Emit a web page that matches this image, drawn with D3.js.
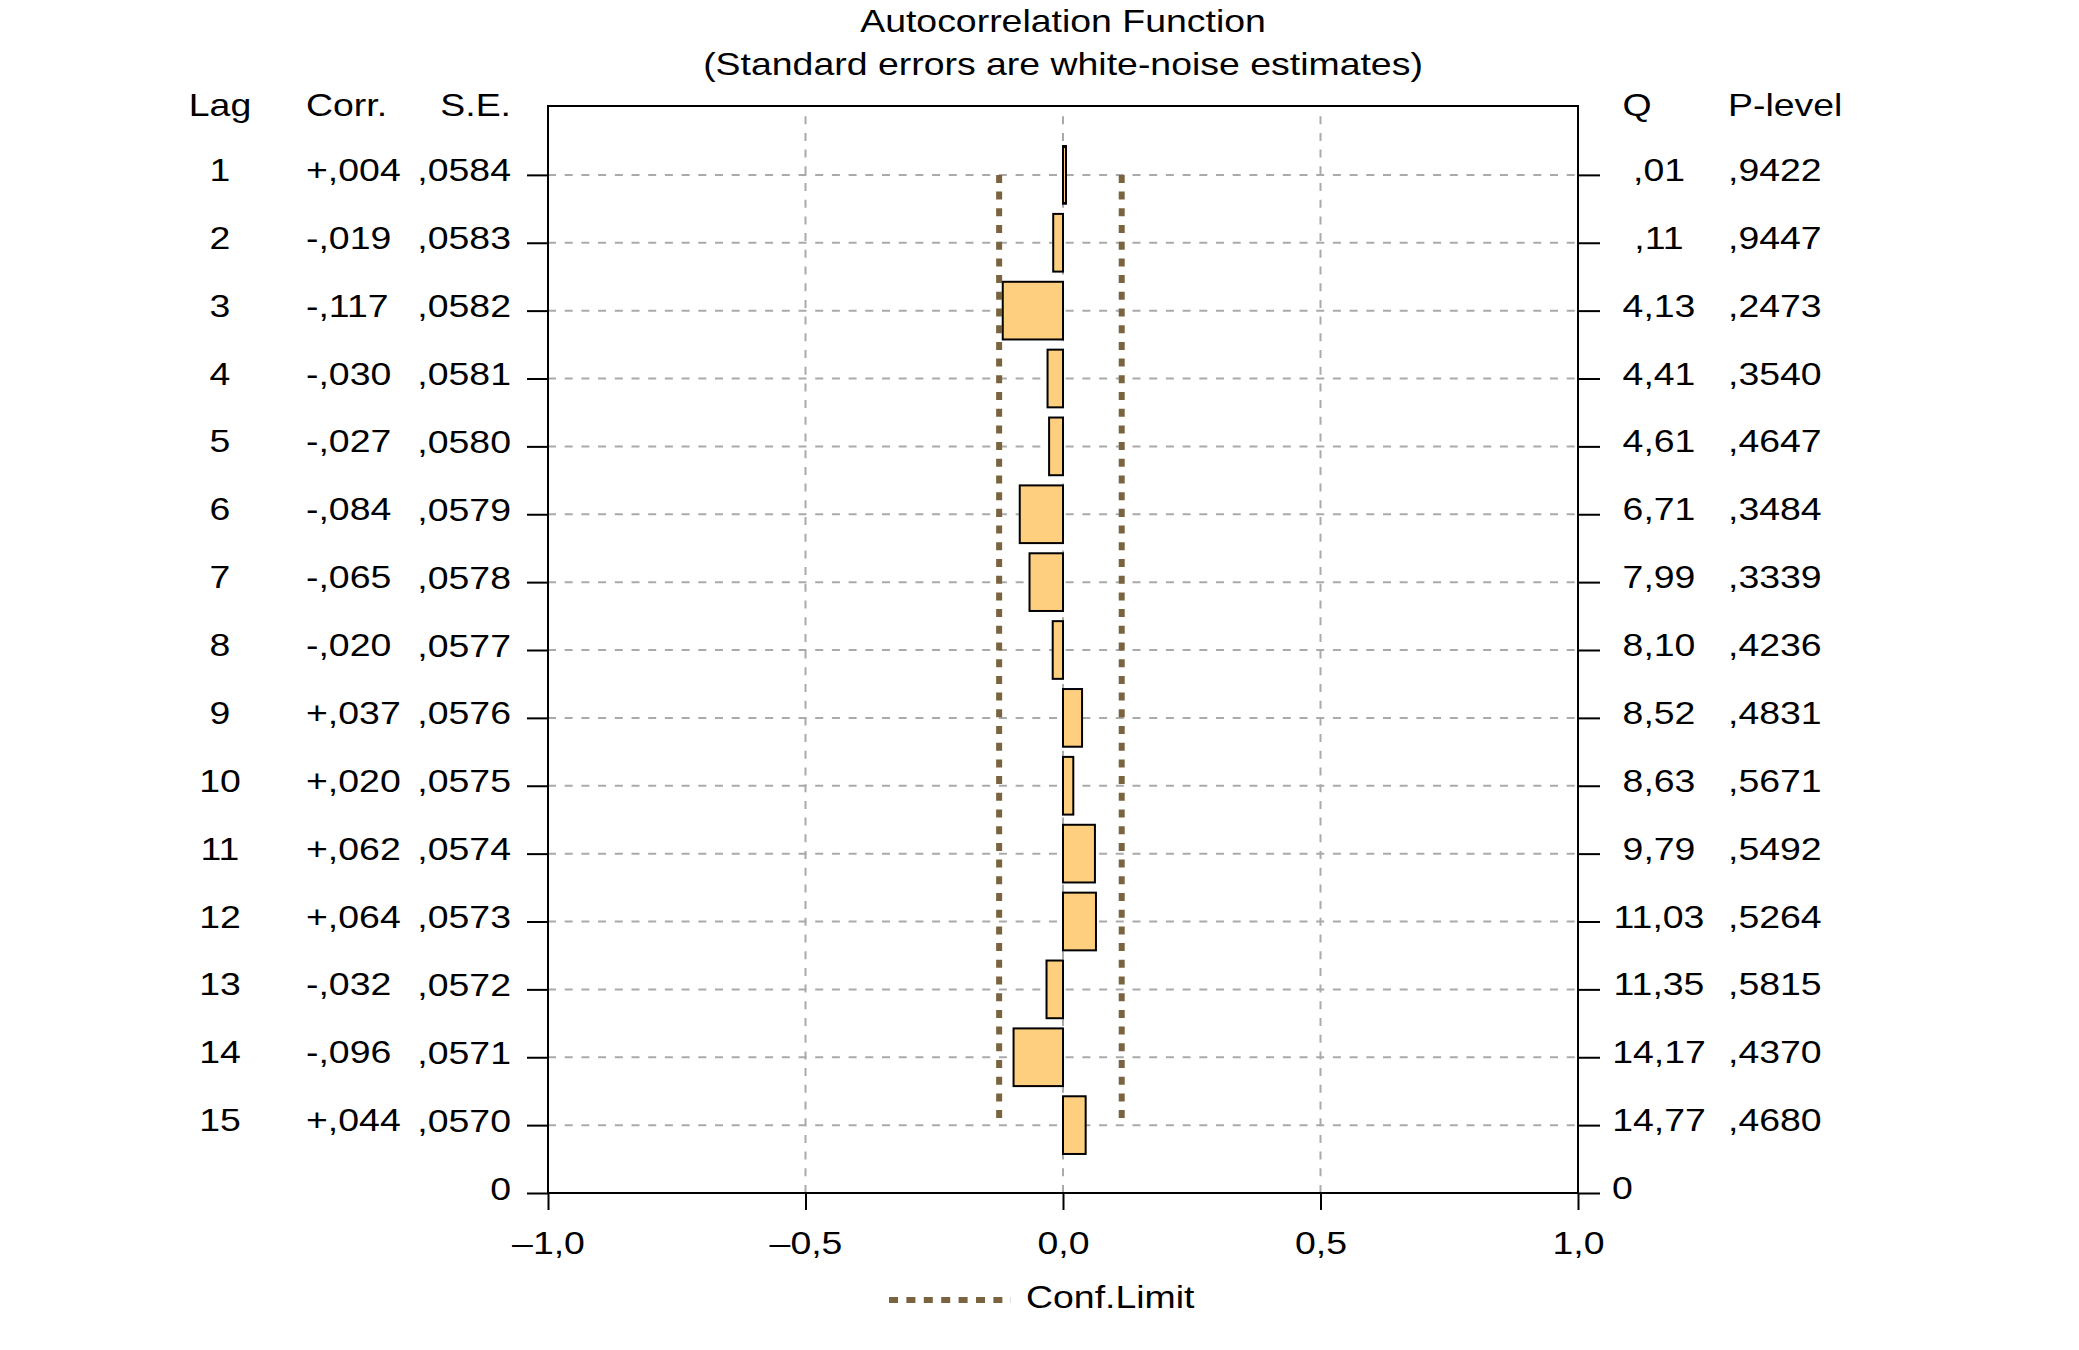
<!DOCTYPE html>
<html>
<head>
<meta charset="utf-8">
<script src="https://cdn.jsdelivr.net/npm/d3@7"></script>
<style>
  body { margin: 0; background: #fff; }
  svg { font-family: "Liberation Sans", Arial, sans-serif; }
</style>
</head>
<body>
<svg width="2079" height="1350"></svg>
<script>
// ACF table values
const lags = [1, 2, 3, 4, 5, 6, 7, 8, 9, 10, 11, 12, 13, 14, 15]
const corr = [0.004, -0.019, -0.117, -0.030, -0.027, -0.084, -0.065, -0.020, 0.037, 0.020, 0.062, 0.064, -0.032, -0.096, 0.044]
const se = [0.0584, 0.0583, 0.0582, 0.0581, 0.0580, 0.0579, 0.0578, 0.0577, 0.0576, 0.0575, 0.0574, 0.0573, 0.0572, 0.0571, 0.0570]
const qStat = [0.01, 0.11, 4.13, 4.41, 4.61, 6.71, 7.99, 8.10, 8.52, 8.63, 9.79, 11.03, 11.35, 14.17, 14.77]
const pLevel = [0.9422, 0.9447, 0.2473, 0.3540, 0.4647, 0.3484, 0.3339, 0.4236, 0.4831, 0.5671, 0.5492, 0.5264, 0.5815, 0.4370, 0.4680]
const xTicks = [-1, -0.5, 0, 0.5, 1]
const confLow = -0.124
const confHigh = 0.114

const svg = d3.select('svg')
const fontSize = 32
// the original text is a bit wider than plain Liberation Sans
const textStretch = 1.17
const plotLeft = 548, plotRight = 1578, plotTop = 106, plotBottom = 1193

const x = d3.scaleLinear().domain([-1, 1]).range([plotLeft, plotRight])
// rows: lag 1 near top, the "0" row sits on the bottom axis (position 16)
const y = d3.scaleLinear().domain([0, 16]).range([plotTop + 1, plotBottom])
const step = y(1) - y(0)

// number formats like the original (comma decimal, no leading zero)
function noZero(v, digits) {
  const s = Math.abs(v).toFixed(digits).replace('.', ',')
  return s.startsWith('0,') ? s.slice(1) : s
}
const fmtCorr = v => (v < 0 ? '-' : '+') + noZero(v, 3)
const fmtTick = v => (v < 0 ? '\u2013' : '') + Math.abs(v).toFixed(1).replace('.', ',')

const rows = lags.map((lag, i) => ({ lag, corr: corr[i], se: se[i], q: qStat[i], p: pLevel[i] }))

// gridlines
svg.append('g').selectAll('line')
  .data(lags)
  .join('line')
  .attr('x1', plotLeft).attr('x2', plotRight)
  .attr('y1', d => y(d)).attr('y2', d => y(d))
  .attr('stroke', '#aaa').attr('stroke-width', 2)
  .attr('stroke-dasharray', '8,8.7')

svg.append('g').selectAll('line')
  .data([-0.5, 0, 0.5])
  .join('line')
  .attr('x1', d => x(d)).attr('x2', d => x(d))
  .attr('y1', plotBottom).attr('y2', plotTop + 10)
  .attr('stroke', '#aaa').attr('stroke-width', 2)
  .attr('stroke-dasharray', '8,8.7')

// bars
svg.append('g').selectAll('rect')
  .data(rows)
  .join('rect')
  .attr('x', d => Math.min(x(0), x(d.corr)))
  .attr('width', d => Math.max(Math.abs(x(d.corr) - x(0)), 3))
  .attr('y', d => y(d.lag) - step * 0.425)
  .attr('height', step * 0.85)
  .attr('fill', '#ffcf80')
  .attr('stroke', '#000')
  .attr('stroke-width', 2)

// confidence limits
const confColor = '#7a6440'
svg.append('g').selectAll('line')
  .data([confLow, confHigh])
  .join('line')
  .attr('x1', d => x(d)).attr('x2', d => x(d))
  .attr('y1', y(1)).attr('y2', y(15))
  .attr('stroke', confColor).attr('stroke-width', 6)
  .attr('stroke-dasharray', '8,8.7')

// frame
svg.append('rect')
  .attr('x', plotLeft).attr('y', plotTop)
  .attr('width', plotRight - plotLeft).attr('height', plotBottom - plotTop)
  .attr('fill', 'none').attr('stroke', '#000').attr('stroke-width', 2)

// left axis: S.E. column
const leftAxis = d3.axisLeft(y)
  .tickValues(lags.concat([16]))
  .tickSize(21).tickSizeOuter(0).tickPadding(16)
  .tickFormat(d => d === 16 ? '0' : noZero(se[d - 1], 4))
svg.append('g')
  .attr('transform', `translate(${plotLeft},0)`)
  .call(leftAxis)
  .call(g => g.select('.domain').remove())
  .call(g => g.selectAll('.tick line').attr('stroke-width', 2))
  .call(g => g.selectAll('.tick text').attr('font-size', fontSize).attr('fill', '#000').attr('dy', '0.19em'))

// right axis: ticks only, Q column drawn below
const rightAxis = d3.axisRight(y)
  .tickValues(lags.concat([16]))
  .tickSize(22).tickSizeOuter(0)
  .tickFormat('')
svg.append('g')
  .attr('transform', `translate(${plotRight},0)`)
  .call(rightAxis)
  .call(g => g.select('.domain').remove())
  .call(g => g.selectAll('.tick line').attr('stroke-width', 2))

// bottom axis
const bottomAxis = d3.axisBottom(x)
  .tickValues(xTicks)
  .tickSize(17).tickSizeOuter(0).tickPadding(21)
  .tickFormat(fmtTick)
svg.append('g')
  .attr('transform', `translate(0,${plotBottom})`)
  .call(bottomAxis)
  .call(g => g.select('.domain').remove())
  .call(g => g.selectAll('.tick line').attr('stroke-width', 2))
  .call(g => g.selectAll('.tick text').attr('font-size', fontSize).attr('fill', '#000'))

// table columns
function column(xPos, anchor, fmt) {
  svg.append('g').selectAll('text')
    .data(rows)
    .join('text')
    .attr('x', xPos)
    .attr('y', d => y(d.lag) + 6)
    .attr('text-anchor', anchor)
    .attr('font-size', fontSize)
    .text(fmt)
}
column(220, 'middle', d => d.lag)
column(306, 'start', d => fmtCorr(d.corr))
column(1659, 'middle', d => noZero(d.q, 2))
column(1728, 'start', d => noZero(d.p, 4))

svg.append('text')
  .attr('x', 1612).attr('y', y(16) + 6)
  .attr('font-size', fontSize)
  .text('0')

// headers
const headers = [
  { t: 'Lag', x: 220, a: 'middle' },
  { t: 'Corr.', x: 306, a: 'start' },
  { t: 'S.E.', x: 511, a: 'end' },
  { t: 'Q', x: 1637, a: 'middle' },
  { t: 'P-level', x: 1728, a: 'start' }
]
svg.append('g').selectAll('text')
  .data(headers)
  .join('text')
  .attr('x', d => d.x).attr('y', 116)
  .attr('text-anchor', d => d.a)
  .attr('font-size', fontSize)
  .text(d => d.t)

// title
svg.append('text')
  .attr('x', (plotLeft + plotRight) / 2).attr('y', 32)
  .attr('text-anchor', 'middle').attr('font-size', fontSize)
  .text('Autocorrelation Function')
svg.append('text')
  .attr('x', (plotLeft + plotRight) / 2).attr('y', 75)
  .attr('text-anchor', 'middle').attr('font-size', fontSize)
  .text('(Standard errors are white-noise estimates)')

// legend
svg.append('line')
  .attr('x1', 889).attr('x2', 1011)
  .attr('y1', 1300).attr('y2', 1300)
  .attr('stroke', confColor).attr('stroke-width', 6)
  .attr('stroke-dasharray', '9,8.4')
svg.append('text')
  .attr('x', 1026).attr('y', 1308)
  .attr('font-size', fontSize)
  .text('Conf.Limit')

// widen every label around its anchor point
svg.selectAll('text').each(function () {
  const t = d3.select(this)
  const tx = +t.attr('x') || 0
  const ty = +t.attr('y') || 0
  t.attr('x', 0).attr('y', 0)
    .attr('transform', `translate(${tx},${ty}) scale(${textStretch},1)`)
})
</script>
</body>
</html>
